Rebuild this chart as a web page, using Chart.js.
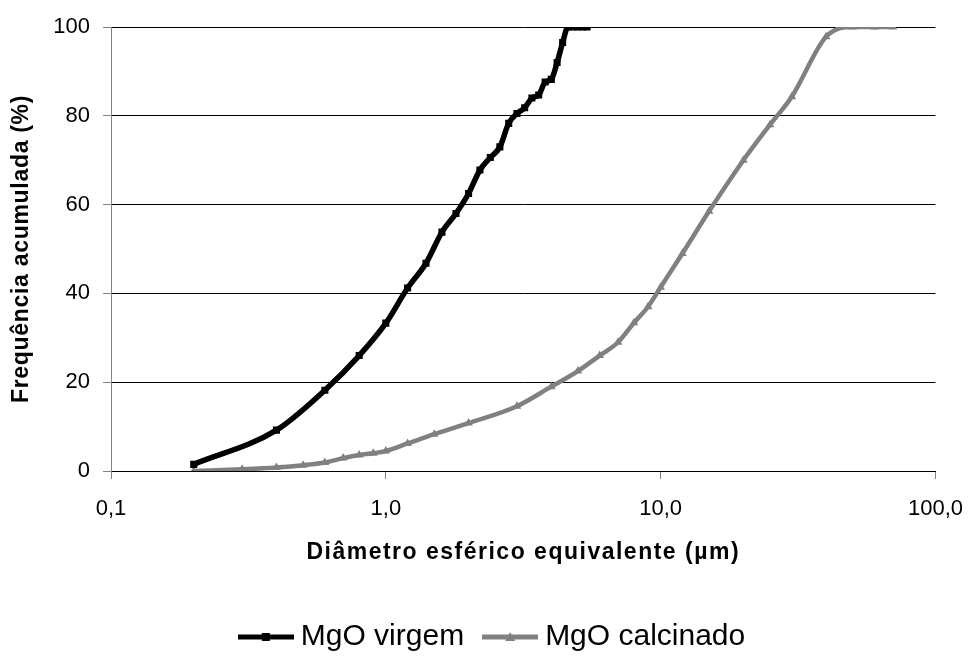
<!DOCTYPE html>
<html>
<head>
<meta charset="utf-8">
<script src="https://cdn.jsdelivr.net/npm/chart.js@4.4.1/dist/chart.umd.min.js"></script>
<style>
  html, body { margin:0; padding:0; background:#fff; overflow:hidden; }
</style>
</head>
<body>
<canvas id="chart" width="980" height="656"></canvas>
<script>
// MgO virgem (black, squares)
const virgemDiam = [0.2, 0.4, 0.6, 0.8, 1.0, 1.2, 1.4, 1.6, 1.8, 2.0, 2.2, 2.4, 2.6, 2.8, 3.0, 3.2, 3.4, 3.6, 3.8, 4.0, 4.2, 4.4, 4.6, 4.8, 5.0, 5.2, 5.4];
const virgemFreq = [1.5, 9.2, 18.2, 26.0, 33.3, 41.2, 46.8, 53.8, 58.0, 62.5, 67.8, 70.6, 73.0, 78.3, 80.5, 81.8, 84.0, 84.7, 87.6, 88.2, 92.0, 96.5, 100, 100, 100, 100, 100];

// MgO calcinado (grey, triangles)
const calcDiam = [0.2, 0.3, 0.4, 0.5, 0.6, 0.7, 0.8, 0.9, 1.0, 1.2, 1.5, 2, 3, 4, 5, 6, 7, 8, 9, 10, 12, 15, 20, 25, 30, 40, 50, 60, 70];
const calcFreq = [0.0, 0.4, 0.8, 1.3, 1.9, 2.9, 3.6, 4.0, 4.5, 6.2, 8.3, 10.8, 14.6, 19.0, 22.5, 26.0, 29.0, 33.4, 37.0, 41.4, 49.0, 58.5, 70.0, 78.0, 84.3, 97.8, 100, 100, 100];

const xTicks = [0.1, 1, 10, 100];
const seriesNames = ['MgO virgem', 'MgO calcinado'];
const seriesColors = ['#000000', '#808080'];

Chart.defaults.font.family = '"Liberation Sans", Arial, sans-serif';
Chart.defaults.color = '#000';

const toPoints = (xs, ys) => xs.map((x, i) => ({ x, y: ys[i] }));

// legend swatch: a short piece of line with the marker in the middle
function legendSample(color, style) {
  const c = document.createElement('canvas');
  c.width = 56; c.height = 12;
  const g = c.getContext('2d');
  g.strokeStyle = color; g.lineWidth = 5;
  g.beginPath(); g.moveTo(0, 6); g.lineTo(56, 6); g.stroke();
  g.fillStyle = color;
  if (style === 'rect') g.fillRect(24, 2, 8, 8);
  else { g.beginPath(); g.moveTo(28, 1); g.lineTo(33, 10); g.lineTo(23, 10); g.closePath(); g.fill(); }
  return c;
}
const samples = [legendSample(seriesColors[0], 'rect'), legendSample(seriesColors[1], 'triangle')];

// Excel spreads the axis titles a little; canvas letterSpacing does the same
const titleSpacing = { x: '1.5px', y: '0.7px' };
const spacedTitles = {
  id: 'spacedTitles',
  afterLayout(chart) {
    Object.values(chart.scales).forEach(s => {
      if (s._origDrawTitle) return;
      s._origDrawTitle = s.drawTitle;
      s.drawTitle = function () {
        this.ctx.save();
        this.ctx.letterSpacing = titleSpacing[this.id] || '0px';
        this._origDrawTitle();
        this.ctx.restore();
      };
    });
  }
};

new Chart(document.getElementById('chart'), {
  type: 'line',
  data: {
    datasets: [
      { label: seriesNames[0], data: toPoints(virgemDiam, virgemFreq), borderColor: seriesColors[0], backgroundColor: seriesColors[0],
        borderWidth: 5.5, pointStyle: 'rect', pointRadius: 5, pointBorderWidth: 0, cubicInterpolationMode: 'monotone' },
      { label: seriesNames[1], data: toPoints(calcDiam, calcFreq), borderColor: seriesColors[1], backgroundColor: seriesColors[1],
        borderWidth: 4.5, pointStyle: 'triangle', pointRadius: 5, pointBorderWidth: 0, cubicInterpolationMode: 'monotone' }
    ]
  },
  options: {
    responsive: false,
    animation: false,
    layout: { padding: { left: 46, right: 35, top: 27, bottom: -6 } },
    plugins: {
      tooltip: { enabled: false },
      legend: {
        position: 'bottom',
        labels: {
          usePointStyle: true, pointStyleWidth: 40, padding: 26,
          font: { size: 30 }, color: '#000',
          generateLabels: chart => chart.data.datasets.map((ds, i) => ({
            text: ds.label, pointStyle: samples[i], fillStyle: ds.borderColor,
            strokeStyle: 'transparent', lineWidth: 0, fontColor: '#000', hidden: false, datasetIndex: i
          }))
        }
      }
    },
    scales: {
      x: {
        type: 'logarithmic', min: 0.1, max: 100,
        afterBuildTicks: s => { s.ticks = xTicks.map(v => ({ value: v })); },
        afterFit: s => { s.height = 125; },
        ticks: { font: { size: 22 }, padding: 17, maxRotation: 0, autoSkip: false,
          callback: v => Number(v).toFixed(1).replace('.', ',') },
        grid: { drawOnChartArea: false, tickLength: 8, color: '#808080' },
        border: { color: '#000', width: 1 },
        title: { display: true, text: 'Diâmetro esférico equivalente (µm)', font: { size: 23, weight: 'bold' },
          padding: { top: 0, bottom: 30 } }
      },
      y: {
        min: 0, max: 100,
        afterFit: s => { s.width = 65; },
        ticks: { stepSize: 20, font: { size: 22 }, padding: 13 },
        grid: { color: '#000', tickColor: '#808080', tickLength: 8, lineWidth: 1 },
        border: { color: '#808080', width: 1 },
        title: { display: true, text: 'Frequência acumulada (%)', font: { size: 23, weight: 'bold' },
          padding: { top: -38, bottom: 0 } }
      }
    }
  },
  plugins: [spacedTitles]
});
</script>
</body>
</html>
